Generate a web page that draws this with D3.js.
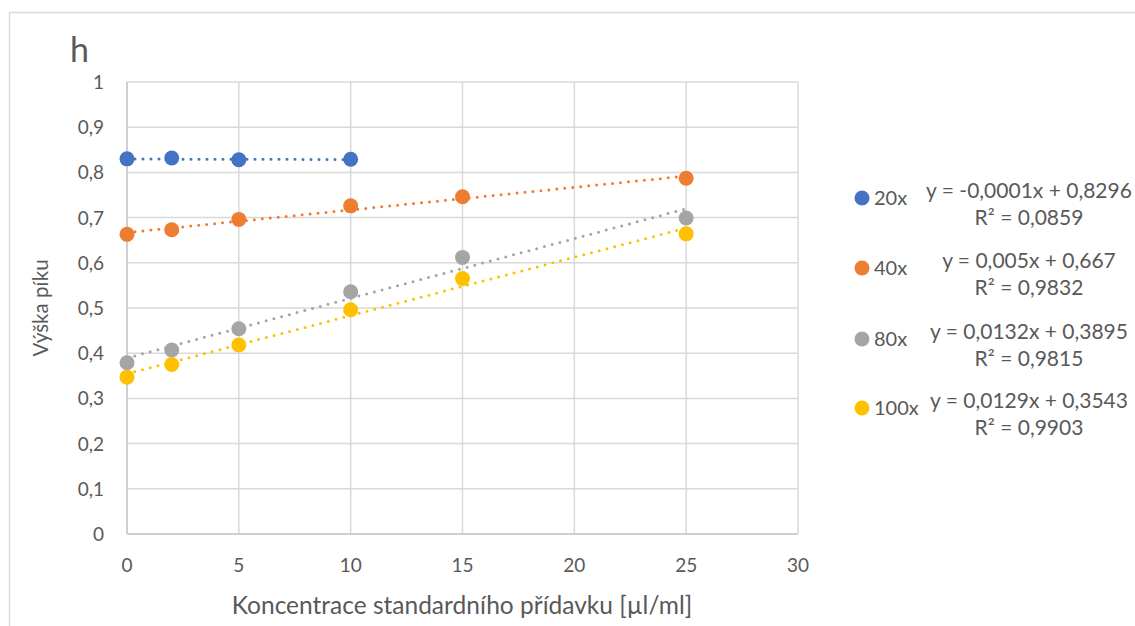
<!DOCTYPE html>
<html>
<head>
<meta charset="utf-8">
<title>Výška píku</title>
<style>
body { margin: 0; background: #fff; }
svg text { font-family: Lato, "Open Sans", sans-serif; fill: #595959; }
</style>
</head>
<body>
<svg width="1135" height="626"></svg>
<script src="https://cdn.jsdelivr.net/npm/d3@7"></script>
<script>
// data
var seriesNames = ["20x", "40x", "80x", "100x"];
var xs20 = [0, 2, 5, 10];
var ys20 = [0.830, 0.832, 0.828, 0.829];
var xs40 = [0, 2, 5, 10, 15, 25];
var ys40 = [0.663, 0.673, 0.696, 0.726, 0.746, 0.787];
var xs80 = [0, 2, 5, 10, 15, 25];
var ys80 = [0.379, 0.407, 0.454, 0.536, 0.612, 0.699];
var xs100 = [0, 2, 5, 10, 15, 25];
var ys100 = [0.347, 0.375, 0.418, 0.496, 0.565, 0.664];
// trendline coefficients shown in the legend
var slopes = [-0.0001, 0.005, 0.0132, 0.0129];
var intercepts = [0.8296, 0.667, 0.3895, 0.3543];
var eqLabels = ["y = -0,0001x + 0,8296", "y = 0,005x + 0,667", "y = 0,0132x + 0,3895", "y = 0,0129x + 0,3543"];
var r2Labels = ["R² = 0,0859", "R² = 0,9832", "R² = 0,9815", "R² = 0,9903"];
var xTicks = [0, 5, 10, 15, 20, 25, 30];
var yTicks = [0, 0.1, 0.2, 0.3, 0.4, 0.5, 0.6, 0.7, 0.8, 0.9, 1];

var colors = ["#4472C4", "#ED7D31", "#A5A5A5", "#FFC000"];
var allX = [xs20, xs40, xs80, xs100];
var allY = [ys20, ys40, ys80, ys100];

var svg = d3.select("svg");

// chart frame
svg.append("rect")
    .attr("x", 9.5).attr("y", 12.5)
    .attr("width", 1140).attr("height", 700)
    .style("fill", "none").style("stroke", "#D9D9D9").style("stroke-width", 1.5);

var x = d3.scaleLinear().domain([0, 30]).range([127, 798]);
var y = d3.scaleLinear().domain([0, 1]).range([534, 82]);
var fmt = function(v) { return d3.format("~g")(+v.toFixed(1)).replace(".", ","); };

// gridlines
svg.selectAll(".hgrid").data(yTicks).enter().append("line")
    .attr("x1", x(0)).attr("x2", x(30))
    .attr("y1", d => y(d)).attr("y2", d => y(d))
    .style("stroke", "#D9D9D9").style("stroke-width", 1.5);
svg.selectAll(".vgrid").data(xTicks).enter().append("line")
    .attr("x1", d => x(d)).attr("x2", d => x(d))
    .attr("y1", y(0)).attr("y2", y(1))
    .style("stroke", "#D9D9D9").style("stroke-width", 1.5);
// axis lines a little darker
svg.append("line").attr("x1", x(0)).attr("x2", x(30)).attr("y1", y(0)).attr("y2", y(0))
    .style("stroke", "#C8C8C8").style("stroke-width", 1.5);
svg.append("line").attr("x1", x(0)).attr("x2", x(0)).attr("y1", y(0)).attr("y2", y(1))
    .style("stroke", "#C8C8C8").style("stroke-width", 1.5);

// tick labels
svg.selectAll(".ylab").data(yTicks).enter().append("text")
    .attr("x", 104).attr("y", d => y(d) + 7)
    .attr("text-anchor", "end").style("font-size", "19px")
    .text(fmt);
svg.selectAll(".xlab").data(xTicks).enter().append("text")
    .attr("x", d => x(d)).attr("y", 572)
    .attr("text-anchor", "middle").style("font-size", "19px")
    .text(d => d);

// titles
svg.append("text").attr("x", 70).attr("y", 62).style("font-size", "34px").text("h");
svg.append("text").attr("x", 462).attr("y", 614).attr("text-anchor", "middle")
    .style("font-size", "24.5px").text("Koncentrace standardního přídavku [µl/ml]");
svg.append("text").attr("transform", "translate(48,308) rotate(-90)")
    .attr("text-anchor", "middle").style("font-size", "20.5px").text("Výška píku");

// trendlines
seriesNames.forEach(function(name, i) {
    var xe = d3.extent(allX[i]);
    svg.append("line")
        .attr("x1", x(xe[0])).attr("x2", x(xe[1]))
        .attr("y1", y(slopes[i] * xe[0] + intercepts[i]))
        .attr("y2", y(slopes[i] * xe[1] + intercepts[i]))
        .style("stroke", colors[i]).style("stroke-width", 3)
        .style("stroke-linecap", "round").style("stroke-dasharray", "0 8");
});

// markers
seriesNames.forEach(function(name, i) {
    svg.selectAll(".pt" + i).data(allX[i]).enter().append("circle")
        .attr("cx", d => x(d))
        .attr("cy", (d, j) => y(allY[i][j]))
        .attr("r", 7.5)
        .style("fill", colors[i]);
});

// legend
var legY = [198, 268, 339, 408];
seriesNames.forEach(function(name, i) {
    var g = svg.append("g").attr("transform", "translate(0," + legY[i] + ")");
    g.append("circle").attr("cx", 862).attr("cy", 0).attr("r", 7.5).style("fill", colors[i]);
    g.append("text").attr("x", 874).attr("y", 7).style("font-size", "20px").text(name);
    g.append("text").attr("x", 1029).attr("y", 0).attr("text-anchor", "middle")
        .style("font-size", "21px").text(eqLabels[i]);
    g.append("text").attr("x", 1029).attr("y", 27).attr("text-anchor", "middle")
        .style("font-size", "21px").text(r2Labels[i]);
});
</script>
</body>
</html>
